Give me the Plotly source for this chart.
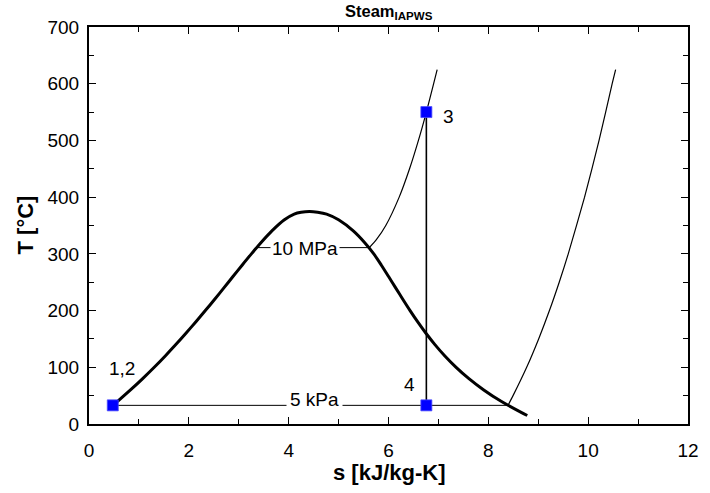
import plotly.graph_objects as go

# Saturation dome (consistent with IAPWS steam tables)
liq_T = [32.88, 40, 60, 80, 100, 120, 140, 160, 180, 200, 220, 240, 260, 280, 300, 320, 340, 360, 370, 373.2, 374.5]
liq_s = [0.4763, 0.5724, 0.8312, 1.0754, 1.3069, 1.5278, 1.7391, 1.9418, 2.1381, 2.3305, 2.5182, 2.7020,
         2.8838, 3.0668, 3.2534, 3.4480, 3.6594, 3.9147, 4.1106, 4.25, 4.42]
vap_T = [373.2, 370, 360, 340, 320, 300, 280, 260, 240, 220, 200, 180, 160, 140, 120, 100, 80, 60, 40, 20, 15]
vap_s = [4.58, 4.76, 5.0, 5.30, 5.52, 5.7049, 5.8571, 6.0019, 6.1437, 6.2861, 6.4323, 6.5857,
         6.7502, 6.9299, 7.1296, 7.3549, 7.6111, 7.9082, 8.2557, 8.6672, 8.7803]

# 10 MPa isobar
hp_s = [3.36, 5.616, 5.7568, 5.9459, 6.2141, 6.4219, 6.5995, 6.7585, 6.9045, 6.975]
hp_T = [311.0, 311.0, 325, 350, 400, 450, 500, 550, 600, 625]

# 5 kPa isobar
lp_s = [0.4763, 8.394, 8.495, 8.768, 9.008, 9.224, 9.420, 9.601, 9.928, 10.218, 10.481, 10.55]
lp_T = [32.88, 32.88, 50, 100, 150, 200, 250, 300, 400, 500, 600, 625]

# Cycle state points
pt_s = [0.4763, 6.7585, 6.7585]
pt_T = [32.88, 550, 32.88]
pt_labels = ["1,2", "3", "4"]
label_s = [0.66, 7.2, 6.43]
label_T = [98, 542, 69]

# Turbine expansion 3 -> 4
turb_s = [6.7585, 6.7585]
turb_T = [550, 32.88]

FONT = "Arial, Liberation Sans, sans-serif"

fig = go.Figure()
fig.add_trace(go.Scatter(x=liq_s + vap_s, y=liq_T + vap_T, mode="lines",
                         line=dict(color="black", width=3, shape="spline", smoothing=0.8),
                         hoverinfo="skip"))
fig.add_trace(go.Scatter(x=hp_s[:2], y=hp_T[:2], mode="lines",
                         line=dict(color="black", width=1), hoverinfo="skip"))
fig.add_trace(go.Scatter(x=hp_s[1:], y=hp_T[1:], mode="lines",
                         line=dict(color="black", width=1.2, shape="spline", smoothing=0.6),
                         hoverinfo="skip"))
fig.add_trace(go.Scatter(x=lp_s[:2], y=lp_T[:2], mode="lines",
                         line=dict(color="black", width=1), hoverinfo="skip"))
fig.add_trace(go.Scatter(x=lp_s[1:], y=lp_T[1:], mode="lines",
                         line=dict(color="black", width=1.2, shape="spline", smoothing=0.6),
                         hoverinfo="skip"))
fig.add_trace(go.Scatter(x=turb_s, y=turb_T, mode="lines",
                         line=dict(color="black", width=1.6), hoverinfo="skip"))
fig.add_trace(go.Scatter(x=pt_s, y=pt_T, mode="markers",
                         marker=dict(symbol="square", size=11, color="#0000FF",
                                     line=dict(color="#4a4aff", width=0.8))))

annots = []
for s, T, t in zip(label_s, label_T, pt_labels):
    annots.append(dict(x=s, y=T, text=t, showarrow=False, xref="x", yref="y",
                       font=dict(size=19, color="black", family=FONT)))
annots.append(dict(x=4.33, y=311, text="10 MPa", showarrow=False, xref="x", yref="y",
                   bgcolor="white", borderpad=1, yshift=-1,
                   font=dict(size=19, color="black", family=FONT)))
annots.append(dict(x=4.51, y=43, text="5 kPa", showarrow=False, xref="x", yref="y",
                   bgcolor="white", borderpad=3,
                   font=dict(size=19, color="black", family=FONT)))
annots.append(dict(x=0.5, y=1, xref="paper", yref="paper", yanchor="bottom", yshift=3,
                   text="<b>Steam<sub>IAPWS</sub></b>", showarrow=False,
                   font=dict(size=16.5, color="black", family=FONT)))
annots.append(dict(x=0.5, y=0, xref="paper", yref="paper", yanchor="middle", yshift=-48,
                   text="<b>s [kJ/kg-K]</b>", showarrow=False,
                   font=dict(size=22, color="black", family=FONT)))
annots.append(dict(x=0, y=0.5, xref="paper", yref="paper", xanchor="center", xshift=-64,
                   text="<b>T [°C]</b>", showarrow=False, textangle=-90,
                   font=dict(size=22, color="black", family=FONT)))

axis_common = dict(showline=True, linewidth=2, linecolor="black", mirror="ticks",
                   ticks="inside", ticklen=7, tickwidth=1.3, tickcolor="black",
                   showgrid=False, zeroline=False,
                   tickfont=dict(size=19, color="black", family=FONT))

fig.update_layout(
    width=710, height=493,
    margin=dict(l=89, r=22, t=27, b=69),
    paper_bgcolor="white", plot_bgcolor="white",
    showlegend=False,
    annotations=annots,
    xaxis=dict(range=[0, 12], dtick=2, tick0=0, ticklabelstandoff=8,
               minor=dict(ticks="inside", dtick=1, ticklen=5, tickwidth=1.3, tickcolor="black"),
               **axis_common),
    yaxis=dict(range=[0, 700], dtick=100, tick0=0, ticklabelstandoff=4,
               minor=dict(ticks="inside", dtick=50, ticklen=5, tickwidth=1.3, tickcolor="black"),
               **axis_common),
)

fig.write_html("out.html", config={"displayModeBar": False},
               post_script="document.body.style.margin='0';document.body.style.overflow='hidden';")
